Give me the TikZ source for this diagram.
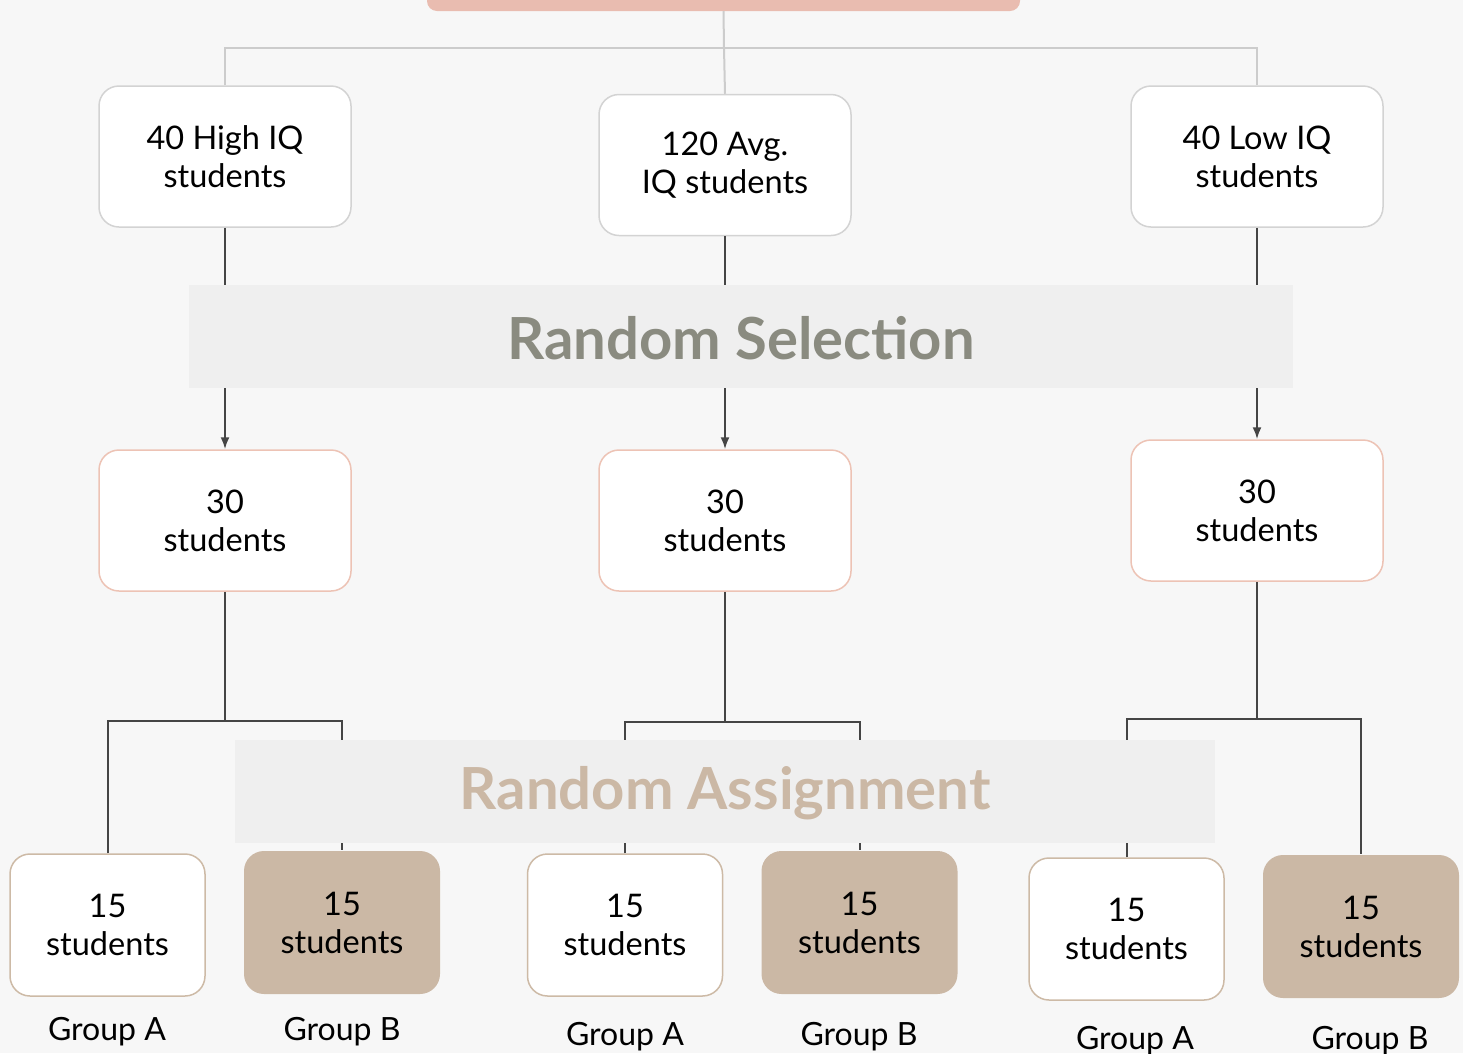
\documentclass[tikz,border=0pt]{standalone}
\usepackage{fontspec}
\setmainfont{Lato}
\usetikzlibrary{arrows.meta}
\definecolor{bg}{HTML}{F7F7F7}
\definecolor{band}{HTML}{EFEFEF}
\definecolor{graybox}{HTML}{D3D3D3}
\definecolor{pinkline}{HTML}{EDC3B5}
\definecolor{pinkfill}{HTML}{E9BCB0}
\definecolor{tan}{HTML}{CBB8A5}
\definecolor{tanline}{HTML}{CDBAA6}
\definecolor{selcol}{HTML}{8A8B80}
\definecolor{darkline}{HTML}{454545}
\definecolor{lightline}{HTML}{CCCCCC}
\begin{document}
\begin{tikzpicture}[x=1pt,y=-1pt,
  every node/.style={font=\fontsize{32.5}{38}\selectfont, align=center, text=black},
  card/.style={rounded corners=20pt, fill=white, line width=1.5pt, inner sep=0pt},
  topcard/.style={card, draw=graybox, minimum width=252pt, minimum height=141pt},
  midcard/.style={card, draw=pinkline, minimum width=252pt, minimum height=141pt},
  acard/.style={card, draw=tanline, minimum width=195pt, minimum height=142pt},
  bcard/.style={card, fill=tan, draw=none, minimum width=196pt, minimum height=143pt},
  grouplabel/.style={font=\fontsize{32}{36}\selectfont},
  bandtext/.style={font=\fontsize{58}{62}\selectfont\bfseries},
  feed/.style={draw=lightline, line width=2pt},
  link/.style={draw=darkline, line width=2pt},
  pointer/.style={link, -{Latex[length=12pt,width=9pt]}}]
% canvas
\useasboundingbox (0,0) rectangle (1463,1053);
\fill[bg] (0,0) rectangle (1463,1053);

% population box at the top edge
\node[fill=pinkfill, rounded corners=10pt, minimum width=593pt, minimum height=40pt, inner sep=0pt] (pop) at (723.5,-9) {};

% cards
\node[topcard] (hi)  at (225,156.5) {40 High IQ\\students};
\node[topcard] (avg) at (725,165) {120 Avg.\\IQ students};
\node[topcard] (lo)  at (1257,156.5) {40 Low IQ\\students};

\node[midcard] (s1) at (225,520.5) {30\\students};
\node[midcard] (s2) at (725,520.5) {30\\students};
\node[midcard] (s3) at (1257,510.5) {30\\students};

\node[acard] (a1) at (107.5,925) {15\\students};
\node[bcard] (b1) at (342,922.5) {15\\students};
\node[acard] (a2) at (625,925) {15\\students};
\node[bcard] (b2) at (859.5,922.5) {15\\students};
\node[acard] (a3) at (1126.5,929) {15\\students};
\node[bcard] (b3) at (1361,926.5) {15\\students};

% connectors, drawn beneath the bands
\coordinate (j0) at (724,48);
\coordinate (k1) at (225,721);
\coordinate (k2) at (725,722);
\coordinate (k3) at (1257,719);

\path[feed] (pop.south) -- (j0);
\path[feed] (hi.north) |- (j0) -| (lo.north);
\path[feed] (j0) -- (avg.north);

\path[pointer] (hi.south) -- (s1.north);
\path[pointer] (avg.south) -- (s2.north);
\path[pointer] (lo.south) -- (s3.north);

\path[link] (s1.south) -- (k1);
\path[link] (a1.north) |- (k1) -| (b1.north);
\path[link] (s2.south) -- (k2);
\path[link] (a2.north) |- (k2) -| (b2.north);
\path[link] (s3.south) -- (k3);
\path[link] (a3.north) |- (k3) -| (b3.north);

% bands laid over the connectors
\node[fill=band, minimum width=1104pt, minimum height=103pt, inner sep=0pt] (sel) at (741,336.5) {};
\node[bandtext, text=selcol] (seltext) at (741,338) {Random Selection};
\node[fill=band, minimum width=980pt, minimum height=103pt, inner sep=0pt] (asg) at (725,791.5) {};
\node[bandtext, text=tan] (asgtext) at (725,793) {Random Assignment};

% group labels
\node[grouplabel] (ga1) at (107,1032) {Group A};
\node[grouplabel] (gb1) at (342,1032) {Group B};
\node[grouplabel] (ga2) at (625,1037) {Group A};
\node[grouplabel] (gb2) at (859,1037) {Group B};
\node[grouplabel] (ga3) at (1135,1041) {Group A};
\node[grouplabel] (gb3) at (1370,1041) {Group B};
\end{tikzpicture}
\end{document}
